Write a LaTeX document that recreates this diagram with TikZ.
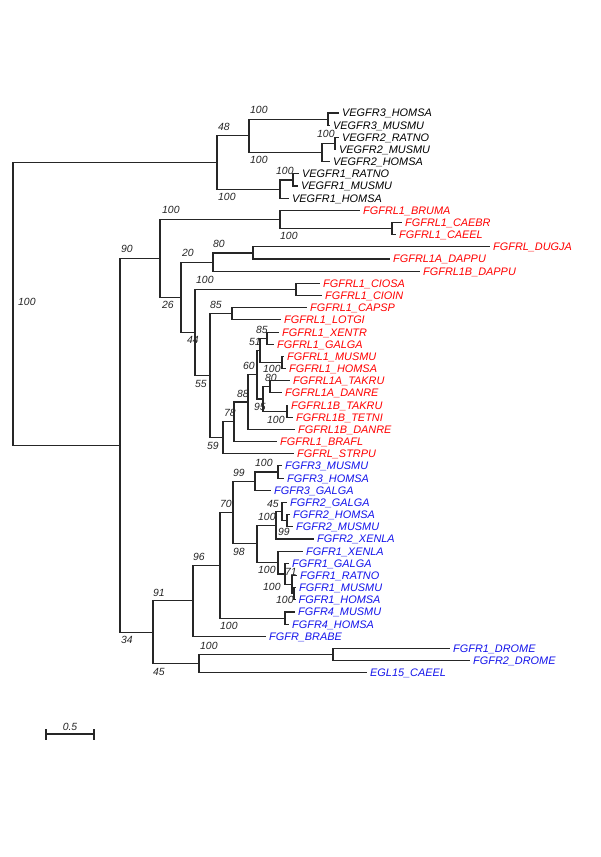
\documentclass[tikz,border=0pt]{standalone}
\usepackage{fontspec}
\setmainfont{Liberation Sans}
\definecolor{fr}{RGB}{255,0,0}
\definecolor{fb}{RGB}{20,20,235}
\begin{document}
\begin{tikzpicture}[x=1pt,y=-1pt,
  br/.style={draw=black!85, line width=1.1pt},
  leaf/.style={anchor=west, inner xsep=3pt, inner ysep=0pt, font=\itshape\fontsize{10.9}{12}\selectfont, text height=7.8pt, text depth=0pt},
  bs/.style={anchor=base west, inner sep=0pt, font=\itshape\fontsize{10.4}{12}\selectfont, text=black!85}]
\useasboundingbox (0,0) rectangle (600,857);
\fill[white] (0,0) rectangle (600,857);
% internal nodes
\coordinate (R0) at (13,303.9);
\coordinate (VEG) at (217,162.45);
\coordinate (V32) at (249,135.8);
\coordinate (V3) at (328,119.1);
\coordinate (V2) at (322,152.55);
\coordinate (V2a) at (335,143.4);
\coordinate (V1) at (280,189.1);
\coordinate (V1a) at (293,179.95);
\coordinate (A) at (120,445.35);
\coordinate (F) at (160,258.45);
\coordinate (BC) at (280,219.5);
\coordinate (CAE) at (392,228.6);
\coordinate (G) at (181,297.4);
\coordinate (DP) at (213,262.1);
\coordinate (DP1) at (253,252.95);
\coordinate (H) at (195,332.65);
\coordinate (CIO) at (296,289.5);
\coordinate (I) at (210,375.8);
\coordinate (CL) at (232,313.8);
\coordinate (J) at (223,437.8);
\coordinate (K) at (234,421.8);
\coordinate (L) at (248,402.0);
\coordinate (M) at (257,374.65);
\coordinate (N) at (260,350.3);
\coordinate (XG) at (267,338.15);
\coordinate (MH) at (282,362.5);
\coordinate (Q) at (263,399.0);
\coordinate (A1) at (270,386.8);
\coordinate (P) at (287,411.2);
\coordinate (BB) at (153,632.25);
\coordinate (Z) at (193,600.8);
\coordinate (AA) at (220,565.3);
\coordinate (R) at (233,512.5);
\coordinate (F3) at (255,481.15);
\coordinate (F3a) at (278,472.0);
\coordinate (S) at (257,543.9);
\coordinate (T) at (276,525.3);
\coordinate (U2) at (282,511.55);
\coordinate (U) at (287,520.7);
\coordinate (V) at (278,562.5);
\coordinate (W) at (285,573.95);
\coordinate (X) at (292,584.6);
\coordinate (Y) at (294,593.7);
\coordinate (F4) at (285,618.05);
\coordinate (CC) at (199,663.7);
\coordinate (DD) at (333,654.6);
% leaves
\node[leaf] (l1) at (339,113.0) {VEGFR3\_HOMSA};
\node[leaf] (l2) at (330,125.2) {VEGFR3\_MUSMU};
\node[leaf] (l3) at (339,137.3) {VEGFR2\_RATNO};
\node[leaf] (l4) at (336,149.5) {VEGFR2\_MUSMU};
\node[leaf] (l5) at (330,161.7) {VEGFR2\_HOMSA};
\node[leaf] (l6) at (299,173.9) {VEGFR1\_RATNO};
\node[leaf] (l7) at (298,186.0) {VEGFR1\_MUSMU};
\node[leaf] (l8) at (289,198.2) {VEGFR1\_HOMSA};
\begin{scope}[every node/.append style={text=fr}]
\node[leaf] (l9) at (360,210.4) {FGFRL1\_BRUMA};
\node[leaf] (l10) at (402,222.5) {FGFRL1\_CAEBR};
\node[leaf] (l11) at (396,234.7) {FGFRL1\_CAEEL};
\node[leaf] (l12) at (490,246.9) {FGFRL\_DUGJA};
\node[leaf] (l13) at (390,259.0) {FGFRL1A\_DAPPU};
\node[leaf] (l14) at (420,271.2) {FGFRL1B\_DAPPU};
\node[leaf] (l15) at (320,283.4) {FGFRL1\_CIOSA};
\node[leaf] (l16) at (322,295.6) {FGFRL1\_CIOIN};
\node[leaf] (l17) at (307,307.7) {FGFRL1\_CAPSP};
\node[leaf] (l18) at (281,319.9) {FGFRL1\_LOTGI};
\node[leaf] (l19) at (279,332.1) {FGFRL1\_XENTR};
\node[leaf] (l20) at (274,344.2) {FGFRL1\_GALGA};
\node[leaf] (l21) at (284,356.4) {FGFRL1\_MUSMU};
\node[leaf] (l22) at (286,368.6) {FGFRL1\_HOMSA};
\node[leaf] (l23) at (290,380.7) {FGFRL1A\_TAKRU};
\node[leaf] (l24) at (282,392.9) {FGFRL1A\_DANRE};
\node[leaf] (l25) at (288,405.1) {FGFRL1B\_TAKRU};
\node[leaf] (l26) at (293,417.3) {FGFRL1B\_TETNI};
\node[leaf] (l27) at (295,429.4) {FGFRL1B\_DANRE};
\node[leaf] (l28) at (277,441.6) {FGFRL1\_BRAFL};
\node[leaf] (l29) at (294,453.8) {FGFRL\_STRPU};
\end{scope}
\begin{scope}[every node/.append style={text=fb}]
\node[leaf] (l30) at (282,465.9) {FGFR3\_MUSMU};
\node[leaf] (l31) at (284,478.1) {FGFR3\_HOMSA};
\node[leaf] (l32) at (271,490.3) {FGFR3\_GALGA};
\node[leaf] (l33) at (287,502.4) {FGFR2\_GALGA};
\node[leaf] (l34) at (290,514.6) {FGFR2\_HOMSA};
\node[leaf] (l35) at (293,526.8) {FGFR2\_MUSMU};
\node[leaf] (l36) at (314,539.0) {FGFR2\_XENLA};
\node[leaf] (l37) at (303,551.1) {FGFR1\_XENLA};
\node[leaf] (l38) at (289,563.3) {FGFR1\_GALGA};
\node[leaf] (l39) at (297,575.5) {FGFR1\_RATNO};
\node[leaf] (l40) at (296,587.6) {FGFR1\_MUSMU};
\node[leaf] (l41) at (295.5,599.8) {FGFR1\_HOMSA};
\node[leaf] (l42) at (295,612.0) {FGFR4\_MUSMU};
\node[leaf] (l43) at (289,624.1) {FGFR4\_HOMSA};
\node[leaf] (l44) at (266,636.3) {FGFR\_BRABE};
\node[leaf] (l45) at (450,648.5) {FGFR1\_DROME};
\node[leaf] (l46) at (470,660.7) {FGFR2\_DROME};
\node[leaf] (l47) at (367,672.8) {EGL15\_CAEEL};
\end{scope}
% branches
\draw[br] (R0) |- (VEG);  \draw[br] (R0) |- (A);
\draw[br] (VEG) |- (V32); \draw[br] (VEG) |- (V1);
\draw[br] (V32) |- (V3);  \draw[br] (V32) |- (V2);
\draw[br] (V3) |- (l1.west); \draw[br] (V3) |- (l2.west);
\draw[br] (V2) |- (V2a); \draw[br] (V2) |- (l5.west);
\draw[br] (V2a) |- (l3.west); \draw[br] (V2a) |- (l4.west);
\draw[br] (V1) |- (V1a); \draw[br] (V1) |- (l8.west);
\draw[br] (V1a) |- (l6.west); \draw[br] (V1a) |- (l7.west);
\draw[br] (A) |- (F); \draw[br] (A) |- (BB);
\draw[br] (F) |- (BC); \draw[br] (F) |- (G);
\draw[br] (BC) |- (l9.west); \draw[br] (BC) |- (CAE);
\draw[br] (CAE) |- (l10.west); \draw[br] (CAE) |- (l11.west);
\draw[br] (G) |- (DP); \draw[br] (G) |- (H);
\draw[br] (DP) |- (DP1); \draw[br] (DP) |- (l14.west);
\draw[br] (DP1) |- (l12.west); \draw[br] (DP1) |- (l13.west);
\draw[br] (H) |- (CIO); \draw[br] (H) |- (I);
\draw[br] (CIO) |- (l15.west); \draw[br] (CIO) |- (l16.west);
\draw[br] (I) |- (CL); \draw[br] (I) |- (J);
\draw[br] (CL) |- (l17.west); \draw[br] (CL) |- (l18.west);
\draw[br] (J) |- (K); \draw[br] (J) |- (l29.west);
\draw[br] (K) |- (L); \draw[br] (K) |- (l28.west);
\draw[br] (L) |- (M); \draw[br] (L) |- (l27.west);
\draw[br] (M) |- (N); \draw[br] (M) |- (Q);
\draw[br] (N) |- (XG); \draw[br] (N) |- (MH);
\draw[br] (XG) |- (l19.west); \draw[br] (XG) |- (l20.west);
\draw[br] (MH) |- (l21.west); \draw[br] (MH) |- (l22.west);
\draw[br] (Q) |- (A1); \draw[br] (Q) |- (P);
\draw[br] (A1) |- (l23.west); \draw[br] (A1) |- (l24.west);
\draw[br] (P) |- (l25.west); \draw[br] (P) |- (l26.west);
\draw[br] (BB) |- (Z); \draw[br] (BB) |- (CC);
\draw[br] (Z) |- (AA); \draw[br] (Z) |- (l44.west);
\draw[br] (AA) |- (R); \draw[br] (AA) |- (F4);
\draw[br] (R) |- (F3); \draw[br] (R) |- (S);
\draw[br] (F3) |- (F3a); \draw[br] (F3) |- (l32.west);
\draw[br] (F3a) |- (l30.west); \draw[br] (F3a) |- (l31.west);
\draw[br] (S) |- (T); \draw[br] (S) |- (V);
\draw[br] (T) |- (U2); \draw[br] (T) |- (l36.west);
\draw[br] (U2) |- (l33.west); \draw[br] (U2) |- (U);
\draw[br] (U) |- (l34.west); \draw[br] (U) |- (l35.west);
\draw[br] (V) |- (l37.west); \draw[br] (V) |- (W);
\draw[br] (W) |- (l38.west); \draw[br] (W) |- (X);
\draw[br] (X) |- (l39.west); \draw[br] (X) |- (Y);
\draw[br] (Y) |- (l40.west); \draw[br] (Y) |- (l41.west);
\draw[br] (F4) |- (l42.west); \draw[br] (F4) |- (l43.west);
\draw[br] (CC) |- (DD); \draw[br] (CC) |- (l47.west);
\draw[br] (DD) |- (l45.west); \draw[br] (DD) |- (l46.west);
% bootstrap labels
\node[bs] (b0) at (18,305) {100};
\node[bs] (b1) at (218,130) {48};
\node[bs] (b2) at (250,113) {100};
\node[bs] (b3) at (250,163.5) {100};
\node[bs] (b4) at (317,137.4) {100};
\node[bs] (b5) at (218,200) {100};
\node[bs] (b6) at (276,174) {100};
\node[bs] (b7) at (162,213.5) {100};
\node[bs] (b8) at (280,239.6) {100};
\node[bs] (b9) at (121,252.5) {90};
\node[bs] (b10) at (182,256) {20};
\node[bs] (b11) at (213,247) {80};
\node[bs] (b12) at (162,308.4) {26};
\node[bs] (b13) at (196,283.5) {100};
\node[bs] (b14) at (187,343.6) {44};
\node[bs] (b15) at (210,308.5) {85};
\node[bs] (b16) at (195,387) {55};
\node[bs] (b17) at (207,449) {59};
\node[bs] (b18) at (224,416.5) {78};
\node[bs] (b19) at (237,397) {88};
\node[bs] (b20) at (243,369) {60};
\node[bs] (b21) at (249,345.5) {51};
\node[bs] (b22) at (256,333) {85};
\node[bs] (b23) at (263,372.5) {100};
\node[bs] (b24) at (265,381.5) {80};
\node[bs] (b25) at (254,410) {95};
\node[bs] (b26) at (267,423) {100};
\node[bs] (b27) at (233,476) {99};
\node[bs] (b28) at (255,466.5) {100};
\node[bs] (b29) at (220,507.5) {70};
\node[bs] (b30) at (233,555.5) {98};
\node[bs] (b31) at (258,520) {100};
\node[bs] (b32) at (267,507) {45};
\node[bs] (b33) at (278,535) {99};
\node[bs] (b34) at (258,573) {100};
\node[bs] (b35) at (285,575.5) {71};
\node[bs] (b36) at (263,590) {100};
\node[bs] (b37) at (276,603) {100};
\node[bs] (b38) at (193,560.5) {96};
\node[bs] (b39) at (153,596) {91};
\node[bs] (b40) at (220,629) {100};
\node[bs] (b41) at (200,649) {100};
\node[bs] (b42) at (153,675) {45};
\node[bs] (b43) at (121,643) {34};
% scale bar
\coordinate (sb1) at (46,734);
\coordinate (sb2) at (94,734);
\draw[br] (sb1) -- (sb2);
\draw[br] ([yshift=-5.5pt]sb1) -- ([yshift=5.5pt]sb1);
\draw[br] ([yshift=-5.5pt]sb2) -- ([yshift=5.5pt]sb2);
\node[bs, anchor=base] (sbl) at (70,730.5) {0.5};
\end{tikzpicture}
\end{document}
